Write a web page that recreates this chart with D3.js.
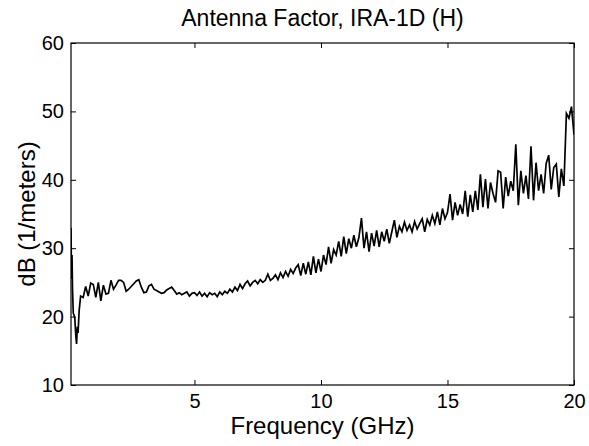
<!DOCTYPE html>
<html>
<head>
<meta charset="utf-8">
<script src="https://cdn.jsdelivr.net/npm/d3@7"></script>
<style>
  body { margin: 0; background: #fff; }
  svg { display: block; font-family: "Liberation Sans", Arial, sans-serif; }
</style>
</head>
<body>
<div id="chart"></div>
<script>
// Antenna factor of IRA-1D (H)

// first few samples near the left edge, denser than the regular grid
const earlyFreqGHz = [0.12, 0.14, 0.16, 0.18, 0.21, 0.24, 0.27, 0.31, 0.34, 0.37, 0.40, 0.44];
const earlyDb = [33, 25.5, 29, 24, 20.5, 20.2, 19.8, 17.2, 16.0, 18.5, 17.6, 20.8];

// regular grid 0.5 .. 20.0 GHz, step 0.1
const gridStartGHz = 0.5;
const gridStepGHz = 0.1;
const gridDb = [
  23.0, 22.8, 24.4, 23.0, 24.9,                                 // 0.5 - 0.9
  24.7, 22.8, 25.0, 22.3, 24.6, 23.3, 23.4, 25.3, 24.0, 24.6,   // 1.0 - 1.9
  25.3, 25.3, 25.0, 23.7, 24.0, 24.4, 24.8, 25.2, 25.4, 24.3,
  23.5, 23.6, 24.5, 24.7, 24.0, 23.8, 23.6, 23.4, 23.5, 23.9,
  24.1, 24.3, 23.8, 23.3, 23.5, 23.2, 23.4, 23.6, 23.0, 23.4,
  23.5, 23.1, 23.6, 23.0, 23.4, 22.9, 23.5, 23.2, 23.4, 22.9,
  23.6, 23.2, 23.7, 23.4, 24.0, 23.6, 24.3, 23.8, 24.7, 24.1,
  24.8, 25.2, 24.5, 25.0, 25.3, 24.8, 25.4, 25.0, 25.3, 26.2,
  25.3, 25.6, 26.1, 25.4, 26.4, 25.7, 26.6, 25.9, 26.9, 26.3,
  27.1, 27.6, 26.0, 27.8, 26.2, 28.0, 26.1, 28.8, 26.4, 28.4,
  26.6, 29.0, 27.6, 30.2, 27.8, 29.8, 29.0, 31.0, 28.8, 31.7,
  29.2, 31.4, 30.0, 31.9, 30.2, 31.6, 34.4, 30.0, 32.4, 29.5,
  32.2, 30.3, 32.6, 30.2, 32.4, 31.0, 32.8, 30.7, 32.4, 34.1,
  31.6, 33.2, 32.4, 33.8, 32.6, 33.4, 32.4, 33.9, 32.8, 33.6,
  34.3, 32.4, 34.2, 33.4, 34.8, 33.6, 35.3, 33.4, 35.8, 34.3,
  35.2, 37.9, 34.1, 36.7, 34.8, 36.4, 35.0, 38.4, 34.6, 37.8,
  35.3, 38.4, 35.6, 40.8, 36.0, 40.1, 35.8, 39.6, 38.0, 36.7,
  41.3, 41.1, 35.8, 40.4, 37.6, 39.8, 38.4, 45.2, 36.3, 41.3,
  38.0, 40.6, 37.2, 44.9, 37.0, 42.5, 38.4, 40.8, 38.0, 42.4,
  43.6, 38.6, 41.8, 42.3, 37.5, 41.6, 39.1, 49.7, 49.0, 50.7,   // 19.0 - 19.9
  46.6                                                          // 20.0
];

const xTicks = [5, 10, 15, 20];
const yTicks = [10, 20, 30, 40, 50, 60];

const width = 589, height = 446;
const margin = { top: 43, right: 15, bottom: 61, left: 71 };

const points = earlyFreqGHz.map((f, i) => ({ f, db: earlyDb[i] }))
  .concat(gridDb.map((db, i) => ({ f: +(gridStartGHz + i * gridStepGHz).toFixed(2), db })));

const svg = d3.select('#chart').append('svg')
  .attr('width', width)
  .attr('height', height);

const x = d3.scaleLinear().domain([0.12, 20]).range([margin.left, width - margin.right]);
const y = d3.scaleLinear().domain([10, 60]).range([height - margin.bottom, margin.top]);

// data line, clipped to the axes box
svg.append('clipPath').attr('id', 'plot-clip')
  .append('rect')
  .attr('x', margin.left).attr('y', margin.top)
  .attr('width', width - margin.left - margin.right)
  .attr('height', height - margin.top - margin.bottom);

const line = d3.line().x(d => x(d.f)).y(d => y(d.db));

svg.append('path')
  .datum(points)
  .attr('clip-path', 'url(#plot-clip)')
  .attr('d', line)
  .attr('fill', 'none')
  .attr('stroke', '#000')
  .attr('stroke-width', 1.7)
  .attr('stroke-linejoin', 'miter');

// axes, matlab style: ticks pointing inwards on all four sides
const tickLen = 5;
const axisBottom = d3.axisBottom(x).tickValues(xTicks).tickSize(-tickLen).tickPadding(9);
const axisLeft = d3.axisLeft(y).tickValues(yTicks).tickSize(-tickLen).tickPadding(7);
const axisTop = d3.axisTop(x).tickValues(xTicks).tickSize(-tickLen).tickFormat('');
const axisRight = d3.axisRight(y).tickValues(yTicks).tickSize(-tickLen).tickFormat('');

function styleAxis(g) {
  g.select('.domain').remove();
  g.selectAll('line').attr('stroke', '#000').attr('stroke-width', 1);
  g.selectAll('text').attr('fill', '#000').attr('font-size', 20)
    .attr('font-family', '"Liberation Sans", Arial, sans-serif');
}

svg.append('g').attr('transform', `translate(0,${height - margin.bottom})`).call(axisBottom).call(styleAxis);
svg.append('g').attr('transform', `translate(${margin.left},0)`).call(axisLeft).call(styleAxis);
svg.append('g').attr('transform', `translate(0,${margin.top})`).call(axisTop).call(styleAxis);
svg.append('g').attr('transform', `translate(${width - margin.right},0)`).call(axisRight).call(styleAxis);

// axes box
svg.append('rect')
  .attr('x', margin.left).attr('y', margin.top)
  .attr('width', width - margin.left - margin.right)
  .attr('height', height - margin.top - margin.bottom)
  .attr('fill', 'none')
  .attr('stroke', '#000')
  .attr('stroke-width', 1.2);

// title and axis labels
const midX = (margin.left + width - margin.right) / 2;

svg.append('text')
  .attr('x', midX)
  .attr('y', 26)
  .attr('text-anchor', 'middle')
  .attr('font-size', 23)
  .text('Antenna Factor, IRA-1D (H)');

svg.append('text')
  .attr('x', midX)
  .attr('y', 434)
  .attr('text-anchor', 'middle')
  .attr('font-size', 24)
  .text('Frequency (GHz)');

svg.append('text')
  .attr('transform', `translate(35,${(margin.top + height - margin.bottom) / 2}) rotate(-90)`)
  .attr('text-anchor', 'middle')
  .attr('font-size', 24)
  .text('dB (1/meters)');
</script>
</body>
</html>
